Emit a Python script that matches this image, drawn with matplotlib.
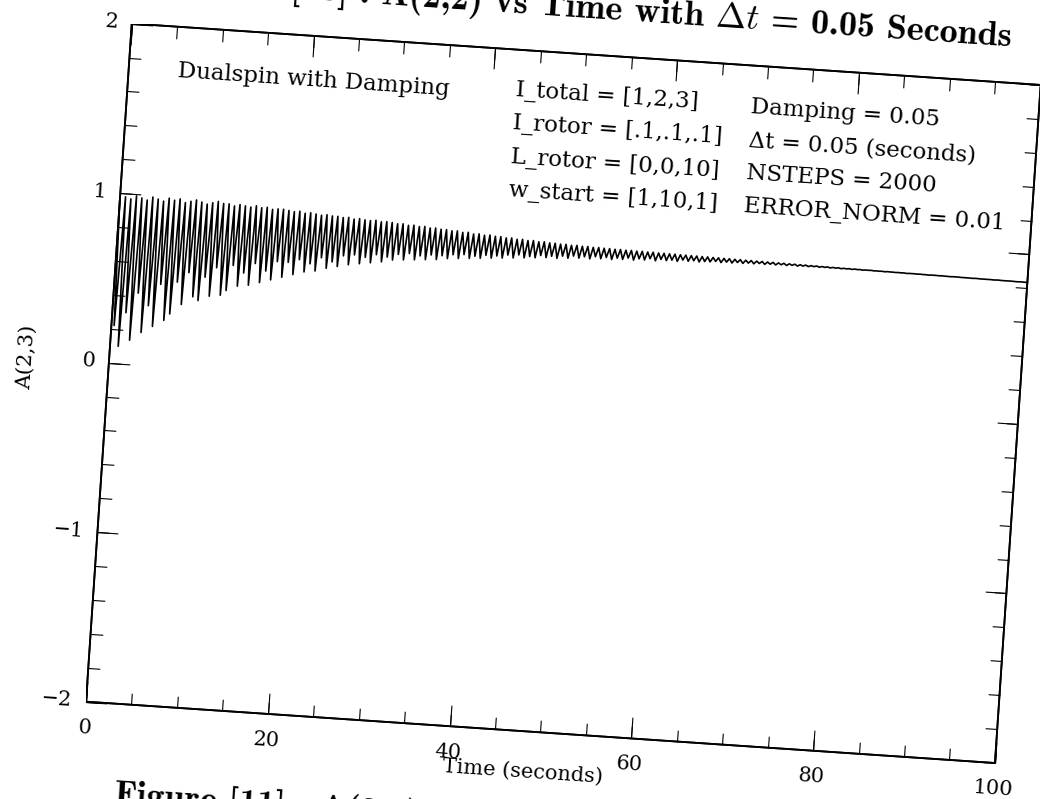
import numpy as np
import matplotlib
matplotlib.use("Agg")
import matplotlib.pyplot as plt
from matplotlib.transforms import Affine2D
import mpl_toolkits.axisartist.floating_axes as floating_axes
from mpl_toolkits.axisartist.grid_finder import FixedLocator, DictFormatter

plt.rcParams['mathtext.fontset'] = 'cm'

# axis ranges and ticks
t_lim = (0, 100)
y_lim = (-2, 2)
x_major = [0, 20, 40, 60, 80, 100]
x_labels = ["0", "20", "40", "60", "80", "100"]
x_minor = [0, 5, 10, 15, 20, 25, 30, 35, 40, 45, 50, 55, 60, 65, 70, 75, 80, 85, 90, 95, 100]
y_major = [-2, -1, 0, 1, 2]
y_labels = ["\u22122", "\u22121", "0", "1", "2"]
y_minor = [-2, -1.8, -1.6, -1.4, -1.2, -1, -0.8, -0.6, -0.4, -0.2, 0,
           0.2, 0.4, 0.6, 0.8, 1, 1.2, 1.4, 1.6, 1.8, 2]

# A(2,3): one max and one min per nutation cycle (period)
period = 0.6
a23_hi = [
    0.95, 0.98, 0.97, 0.99, 0.98, 0.97, 0.99, 0.98, 0.97, 0.99,
    0.98, 0.99, 0.97, 0.98, 0.99, 0.98, 0.97, 0.98, 0.99, 0.98,
    0.98, 0.97, 0.98, 0.975, 0.97, 0.98, 0.97, 0.975, 0.965, 0.97,
    0.97, 0.965, 0.96, 0.965, 0.955, 0.96, 0.955, 0.95, 0.955, 0.95,
    0.95, 0.945, 0.948, 0.94, 0.945, 0.94, 0.938, 0.942, 0.935, 0.938,
    0.935, 0.93, 0.932, 0.925, 0.928, 0.922, 0.925, 0.918, 0.92, 0.915,
    0.915, 0.91, 0.912, 0.905, 0.908, 0.90, 0.903, 0.897, 0.90, 0.895,
    0.895, 0.89, 0.892, 0.886, 0.888, 0.883, 0.885, 0.88, 0.882, 0.878,
    0.878, 0.875, 0.876, 0.872, 0.874, 0.871, 0.872, 0.869, 0.870, 0.868,
    0.868, 0.866, 0.867, 0.865, 0.866, 0.864, 0.865, 0.863, 0.864, 0.862,
    0.862, 0.861, 0.861, 0.860, 0.860, 0.859, 0.859, 0.858, 0.858, 0.857,
    0.857, 0.856, 0.856, 0.855, 0.855, 0.854, 0.854, 0.853, 0.853, 0.852,
    0.852, 0.851, 0.851, 0.850, 0.850, 0.849, 0.849, 0.848, 0.848, 0.847,
    0.847, 0.846, 0.846, 0.845, 0.845, 0.845, 0.844, 0.844, 0.844, 0.843,
    0.843, 0.843, 0.842, 0.842, 0.842, 0.841, 0.841, 0.841, 0.840, 0.840,
    0.840, 0.840, 0.839, 0.839, 0.839, 0.838, 0.838, 0.838, 0.837, 0.837,
    0.837, 0.837, 0.836, 0.836, 0.836, 0.835, 0.835,
]
a23_lo = [
    0.22, 0.10, 0.30, 0.14, 0.42, 0.19, 0.35, 0.23, 0.48, 0.27,
    0.31, 0.50, 0.37, 0.56, 0.42, 0.40, 0.54, 0.43, 0.60, 0.44,
    0.47, 0.62, 0.50, 0.58, 0.51, 0.64, 0.53, 0.60, 0.55, 0.66,
    0.57, 0.66, 0.59, 0.68, 0.61, 0.66, 0.62, 0.70, 0.64, 0.68,
    0.655, 0.72, 0.67, 0.73, 0.68, 0.72, 0.69, 0.74, 0.70, 0.73,
    0.715, 0.75, 0.72, 0.76, 0.725, 0.75, 0.73, 0.76, 0.735, 0.76,
    0.745, 0.77, 0.75, 0.775, 0.755, 0.77, 0.76, 0.78, 0.765, 0.78,
    0.77, 0.79, 0.775, 0.795, 0.78, 0.79, 0.785, 0.80, 0.79, 0.80,
    0.79, 0.805, 0.795, 0.81, 0.80, 0.81, 0.80, 0.815, 0.805, 0.815,
    0.805, 0.815, 0.81, 0.82, 0.81, 0.82, 0.815, 0.825, 0.815, 0.825,
    0.82, 0.825, 0.82, 0.83, 0.825, 0.83, 0.825, 0.83, 0.83, 0.835,
    0.83, 0.835, 0.832, 0.837, 0.834, 0.838, 0.836, 0.84, 0.837, 0.84,
    0.838, 0.841, 0.839, 0.842, 0.840, 0.842, 0.841, 0.843, 0.842, 0.843,
    0.842, 0.843, 0.842, 0.843, 0.842, 0.843, 0.842, 0.843, 0.842, 0.842,
    0.841, 0.842, 0.841, 0.841, 0.840, 0.841, 0.840, 0.840, 0.839, 0.840,
    0.839, 0.839, 0.838, 0.839, 0.838, 0.838, 0.837, 0.838, 0.837, 0.837,
    0.836, 0.837, 0.836, 0.836, 0.835, 0.836, 0.835,
]

title = "Figure [10] : A(2,2) vs Time with $\\Delta t$ = 0.05 Seconds"
caption = "Figure [11] : A(2,3) vs Time with $\\Delta t$ = 0.05 Seconds"
params_left = ["I_total = [1,2,3]", "I_rotor = [.1,.1,.1]",
               "L_rotor = [0,0,10]", "w_start = [1,10,1]"]
params_right = ["Damping = 0.05", "\u0394t = 0.05 (seconds)",
                "NSTEPS = 2000", "ERROR_NORM = 0.01"]

# the scanned page is tilted a little clockwise
tilt = 3.86
px_per_x = 9.11
px_per_y = 169.9
tr = Affine2D().scale(px_per_x, px_per_y).rotate_deg(-tilt)

W, H = 1040, 799
fig = plt.figure(figsize=(W / 100, H / 100), dpi=100)

corners = tr.transform([[0, -2], [100, -2], [100, 2], [0, 2]])
bx0, by0 = corners.min(axis=0)
bx1, by1 = corners.max(axis=0)
rect = [86 / W, 36 / H, (bx1 - bx0) / W, (by1 - by0) / H]


def make_axes(xt, yt, xfmt, yfmt, ticksize, label):
    gh = floating_axes.GridHelperCurveLinear(
        tr, extremes=(t_lim[0], t_lim[1], y_lim[0], y_lim[1]),
        grid_locator1=FixedLocator(xt), grid_locator2=FixedLocator(yt),
        tick_formatter1=xfmt, tick_formatter2=yfmt)
    ax = fig.add_axes(rect, axes_class=floating_axes.FloatingAxes,
                      grid_helper=gh, label=label)
    ax.patch.set_facecolor("none")
    for side in ["left", "right", "bottom", "top"]:
        a = ax.axis[side]
        a.major_ticks.set_ticksize(ticksize)
        a.major_ticks.set_tick_out(False)
        a.major_ticks.set_linewidth(1.0)
        a.line.set_linewidth(1.3)
        a.toggle(ticklabels=False, label=False)
    return ax


ax_minor = make_axes(x_minor, y_minor, DictFormatter({}), DictFormatter({}), 8.5, "minor")
ax = make_axes(x_major, y_major, DictFormatter(dict(zip(x_major, x_labels))),
               DictFormatter(dict(zip(y_major, y_labels))), 15, "major")
for side in ["left", "bottom"]:
    ax.axis[side].toggle(ticklabels=True)
    ax.axis[side].major_ticklabels.set_fontsize(15)
    ax.axis[side].major_ticklabels.set_fontfamily("DejaVu Serif")
ax.axis["left"].major_ticklabels.set_pad(10)
ax.axis["bottom"].major_ticklabels.set_pad(12)

aux = ax.get_aux_axes(tr)

t_hi = np.arange(len(a23_hi)) * period
t_lo = t_hi + period / 2
t = np.column_stack([t_hi, t_lo]).ravel()
a23 = np.column_stack([a23_hi, a23_lo]).ravel()
aux.plot(t, a23, color="black", lw=1.2)

txt = dict(family="DejaVu Serif", fontsize=16.5, rotation=-tilt,
           rotation_mode="anchor", ha="left", va="baseline")
aux.text(5.35, 1.706, "Dualspin with Damping", **txt)
for i, (sl, sr) in enumerate(zip(params_left, params_right)):
    yy = 1.725 - 0.195 * i
    aux.text(42.5, yy, sl, **txt)
    aux.text(68.4, yy - 0.005, sr, **txt)

aux.text(48.3, -2.24, "Time (seconds)", family="DejaVu Serif", fontsize=15,
         rotation=-tilt, rotation_mode="anchor", ha="center", va="center")
aux.text(-9.0, 0.0, "A(2,3)", family="DejaVu Serif", fontsize=15,
         rotation=90 - tilt, rotation_mode="anchor", ha="center", va="center")

aux.text(96.57, 2.213, title, family=["cmb10", "DejaVu Serif"], fontsize=26,
         rotation=-tilt, rotation_mode="anchor", ha="right", va="baseline")
aux.text(3.72, -2.59, caption, family=["cmb10", "DejaVu Serif"], fontsize=26,
         rotation=-tilt, rotation_mode="anchor", ha="left", va="baseline")

for a in (ax_minor, ax):
    a.set_xlim(bx0, bx1)
    a.set_ylim(by0, by1)

fig.savefig("out.png", dpi=100, facecolor="white")
